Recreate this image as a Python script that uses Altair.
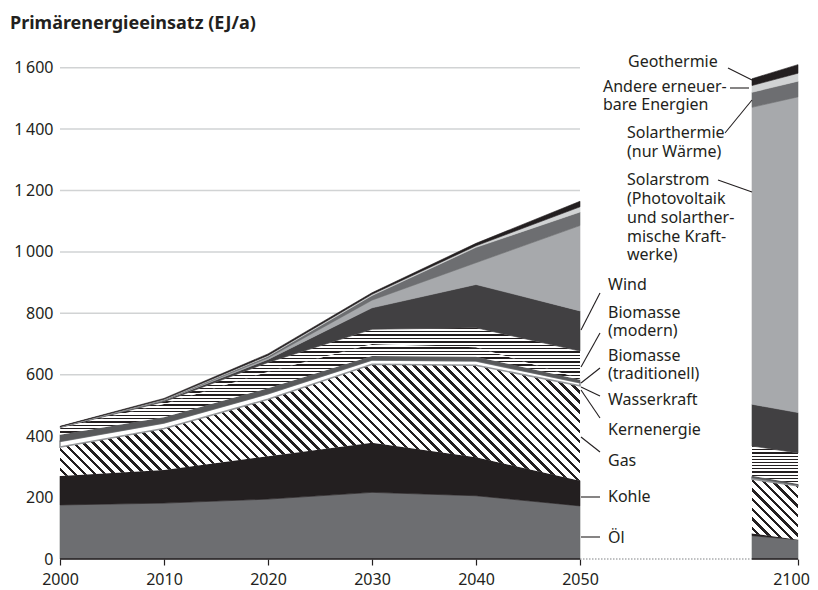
import altair as alt
import numpy as np
import pandas as pd

# ---------------- data (EJ/a) ----------------
years = [2000, 2010, 2020, 2030, 2040, 2050]
years_2100 = [2090, 2100]   # left / right edge of the 2100 column

series = ["Öl", "Kohle", "Gas", "Kernenergie", "Wasserkraft",
          "Biomasse (traditionell)", "Biomasse (modern)", "Wind",
          "Solarstrom", "Solarthermie", "Andere erneuerbare Energien", "Geothermie"]

oel          = [176, 182, 195, 217, 206, 173]
kohle        = [94, 108, 140, 162, 125, 82]
gas          = [95, 135, 185, 255, 300, 309]
kern         = [18, 18, 18, 14, 14, 10]
wasser       = [22, 19, 18, 13, 14, 10]
bio_trad     = [21, 43, 54, 39, 31, 4]
bio_mod      = [2, 7, 30, 48, 63, 89]
wind         = [1, 4, 10, 70, 141, 131]
solarstrom   = [0.5, 1, 5, 25, 71, 278]
solarthermie = [1, 2, 5, 15, 50, 44]
andere       = [0.5, 1, 3, 4, 5, 17]
geo          = [1, 3, 5, 5, 8, 18]

oel_2100          = [76, 63]
kohle_2100        = [7, 0]
gas_2100          = [177, 175]
kern_2100         = [5, 2]
wasser_2100       = [6, 4]
bio_trad_2100     = [0, 0]
bio_mod_2100      = [97, 101]
wind_2100         = [136, 132]
solarstrom_2100   = [967, 1028]
solarthermie_2100 = [49, 51]
andere_2100       = [22, 26]
geo_2100          = [22, 28]

y_ticks = [0, 200, 400, 600, 800, 1000, 1200, 1400, 1600]
grid_ticks = [200, 400, 600, 800, 1000, 1200, 1400, 1600]
x_ticks = [2000, 2010, 2020, 2030, 2040, 2050, 2100]

title_text = "Primärenergieeinsatz (EJ/a)"
label_text = ["Geothermie", "Andere erneuer-", "bare Energien", "Solarthermie", "(nur Wärme)",
              "Solarstrom", "(Photovoltaik", "und solarther-", "mische Kraft-", "werke)",
              "Wind", "Biomasse", "(modern)", "Biomasse", "(traditionell)", "Wasserkraft",
              "Kernenergie", "Gas", "Kohle", "Öl"]

# ---------------- layout / style ----------------
W, H, YMAX = 738, 522, 1700
PAD_L, PAD_T = 52, 29
ORIGIN_X, ORIGIN_Y = 8 + PAD_L, 8 + PAD_T
x_domain = [2000, 2050, 2090, 2100]
x_range = [0, 520, 692, 738]
FONT = "Noto Sans"
DARK = "#231f20"

label_x = [628, 603, 603, 627, 627, 627, 627, 627, 627, 627,
           608, 608, 608, 608, 608, 608, 608, 608, 608, 608]
label_y = [62, 87, 105, 133, 152, 180, 199, 218, 237, 255,
           285, 313, 331, 356, 374, 400, 430, 461, 497, 538]
leaders = [(728, 68, 752, 80), (730, 88, 749, 88), (725, 133, 752, 100), (718, 180, 752, 192),
           (600, 293, 581, 330), (600, 333, 581, 367), (600, 368, 581, 383), (600, 396, 581, 387),
           (600, 418, 581, 390), (600, 452, 581, 437), (581, 497, 600, 497), (581, 537, 600, 537)]

main_vals = [oel, kohle, gas, kern, wasser, bio_trad, bio_mod, wind, solarstrom, solarthermie, andere, geo]
end_vals = [oel_2100, kohle_2100, gas_2100, kern_2100, wasser_2100, bio_trad_2100, bio_mod_2100,
            wind_2100, solarstrom_2100, solarthermie_2100, andere_2100, geo_2100]

styles = {
    "Öl": dict(fill="#6d6e71"),
    "Kohle": dict(fill=DARK),
    "Gas": "diag",
    "Kernenergie": dict(fill="#ffffff", stroke="#939598", strokeWidth=1.6),
    "Wasserkraft": dict(fill="#58595b"),
    "Biomasse (traditionell)": "hlines",
    "Biomasse (modern)": "hlines",
    "Wind": dict(fill="#414042"),
    "Solarstrom": dict(fill="#a7a9ac"),
    "Solarthermie": dict(fill="#6d6e71"),
    "Andere erneuerbare Energien": dict(fill="#d1d3d4"),
    "Geothermie": dict(fill=DARK),
}


def px_x(v):
    return np.interp(v, x_domain, x_range)


def px_y(v):
    return H - np.asarray(v, dtype=float) * H / YMAX


def stripes(n, frac, c1, c2):
    out = []
    for k in range(n):
        a, b, c = k / n, (k + frac) / n, (k + 1) / n
        out += [(a, c1), (b, c1), (b, c2), (c, c2)]
    return [alt.GradientStop(offset=round(o, 5), color=c) for o, c in out]


def diag_grad(x0, x1, yt, yb, period=7.0, frac=0.36, m=1.0):
    wb, hb = x1 - x0, yb - yt
    r = hb / (m * wb)
    s = (1 + r) / (1 + r * r)
    d = (m * wb + hb) / np.sqrt(1 + m * m)
    n = max(1, int(round(d / period)))
    return alt.LinearGradient(gradient="linear", stops=stripes(n, frac, DARK, "#ffffff"),
                              x1=0, y1=1, x2=float(s), y2=float(1 - s * r))


def hline_grad(yt, yb, period=3.3, frac=0.4):
    n = max(1, int(round((yb - yt) / period)))
    return alt.LinearGradient(gradient="linear", stops=stripes(n, frac, DARK, "#ffffff"),
                              x1=0, y1=0, x2=0, y2=1)


xscale = alt.Scale(domain=x_domain, range=x_range, nice=False, zero=False)
yscale = alt.Scale(domain=[0, YMAX], nice=False, zero=False)

xaxis = alt.Axis(values=x_ticks, format="d", title=None, grid=False, domain=False,
                 tickSize=6, tickWidth=1.2, tickColor=DARK, labelFont=FONT, labelFontSize=16,
                 labelColor=DARK, labelPadding=6, labelFlush=False, labelOverlap=False,
                 labelOffset={"condition": {"test": "datum.value == 2100", "value": -7}, "value": 0})
yaxis = alt.Axis(values=y_ticks, title=None, grid=False, domain=False, ticks=False,
                 labelFont=FONT, labelFontSize=16, labelColor=DARK, labelPadding=7,
                 labelExpr="replace(format(datum.value, ','), ',', '\u2009')")


def X(field):
    return alt.X(field, scale=xscale, axis=xaxis)


def Y(field):
    return alt.Y(field, scale=yscale, axis=yaxis)


layers = []

# gridlines (only over the 2000-2050 part)
grid_df = pd.DataFrame({"y": grid_ticks, "x": 2000, "x2": 2050})
layers.append(alt.Chart(grid_df).mark_rule(color="#d1d3d4", strokeWidth=1.5).encode(
    x=X("x:Q"), x2="x2:Q", y=Y("y:Q")))

# stacked areas
for seg_years, seg_vals in [(years, main_vals), (years_2100, end_vals)]:
    arr = np.array(seg_vals, dtype=float)
    cum = np.cumsum(arr, axis=0)
    for i, name in enumerate(series):
        lo = cum[i] - arr[i]
        hi = cum[i]
        df = pd.DataFrame({"x": seg_years, "y2": lo, "y": hi, "series": name})
        st = styles[name]
        xs = px_x(seg_years)
        yt, yb = float(px_y(hi).min()), float(px_y(lo).max())
        if st == "diag":
            kw = dict(color=diag_grad(float(xs.min()), float(xs.max()), yt, yb))
        elif st == "hlines":
            if yb - yt < 0.5:
                continue
            kw = dict(color=hline_grad(yt, yb))
        else:
            kw = dict(st)
            if "stroke" not in kw:
                kw["stroke"] = kw["fill"]
                kw["strokeWidth"] = 0.6
        layers.append(alt.Chart(df).mark_area(**kw).encode(
            x=X("x:Q"), y=Y("y:Q"), y2="y2:Q"))

# x baseline: solid, dotted gap, solid
base_solid = pd.DataFrame({"x": [2000, 2090], "x2": [2050, 2100], "y": [0, 0]})
base_dot = pd.DataFrame({"x": [2050], "x2": [2090], "y": [0]})
layers.append(alt.Chart(base_solid).mark_rule(color=DARK, strokeWidth=1.5).encode(
    x=X("x:Q"), x2="x2:Q", y=Y("y:Q")))
layers.append(alt.Chart(base_dot).mark_rule(color="#808285", strokeWidth=1.2, strokeDash=[1.5, 1.5]).encode(
    x=X("x:Q"), x2="x2:Q", y=Y("y:Q")))


# annotation helpers: page pixels -> data coordinates
def year_of(px):
    return float(np.interp(px - ORIGIN_X, x_range, x_domain))


def val_of(py):
    return float((H - (py - ORIGIN_Y)) * YMAX / H)


lead_df = pd.DataFrame([{"x": year_of(a), "y": val_of(b), "x2": year_of(c), "y2": val_of(d)}
                        for a, b, c, d in leaders])
layers.append(alt.Chart(lead_df).mark_rule(color=DARK, strokeWidth=1.1).encode(
    x=X("x:Q"), y=Y("y:Q"), x2="x2:Q", y2="y2:Q"))

lab_df = pd.DataFrame({"t": label_text,
                       "x": [year_of(v) for v in label_x],
                       "y": [val_of(v) for v in label_y]})
layers.append(alt.Chart(lab_df).mark_text(align="left", baseline="middle", font=FONT,
                                          fontSize=16, color=DARK).encode(
    x=X("x:Q"), y=Y("y:Q"), text="t:N"))

title_df = pd.DataFrame({"t": [title_text]})
layers.append(alt.Chart(title_df).mark_text(align="left", baseline="alphabetic", font=FONT,
                                            fontSize=18, fontWeight="bold", color=DARK).encode(
    x=alt.value(10 - ORIGIN_X), y=alt.value(29 - ORIGIN_Y), text="t:N"))

chart = alt.layer(*layers).properties(
    width=W, height=H,
    autosize=alt.AutoSizeParams(type="none"),
    padding={"left": PAD_L, "top": PAD_T, "right": 12, "bottom": 30},
    background="white",
).configure_view(stroke=None)

chart.save("out.html", embed_options={"renderer": "svg", "actions": False})
